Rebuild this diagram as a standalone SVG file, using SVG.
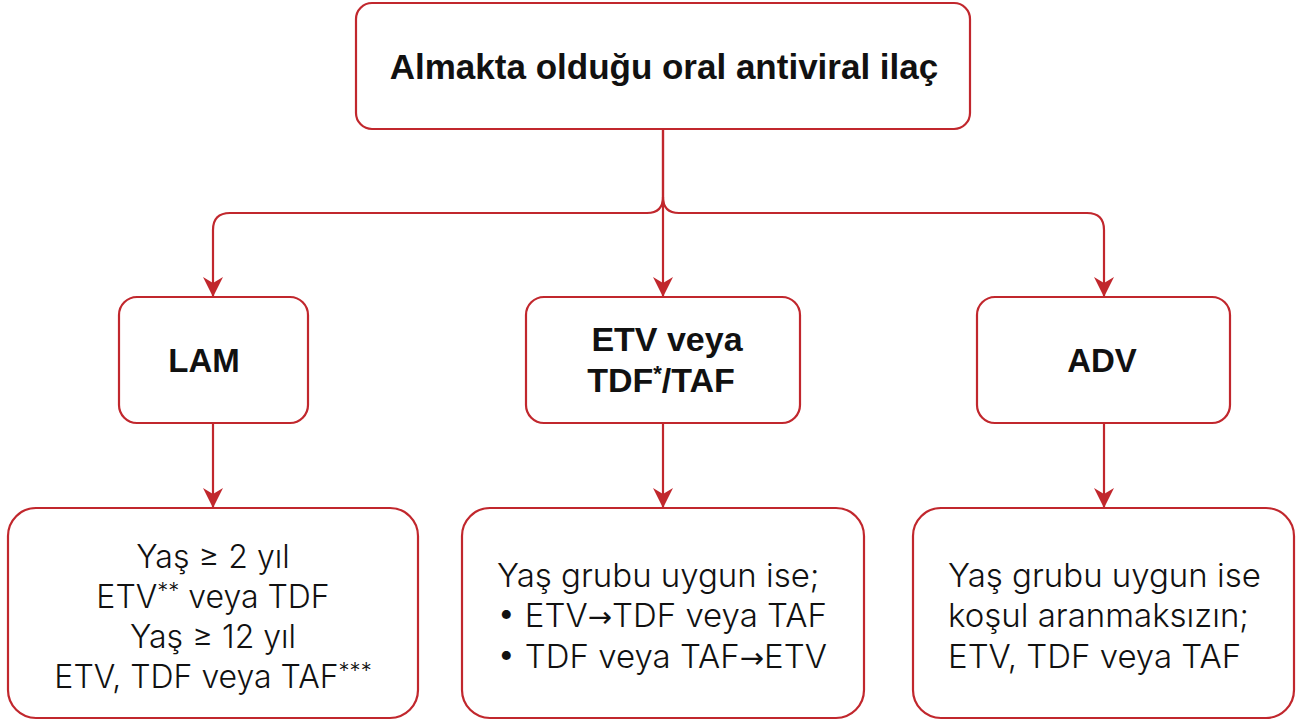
<svg xmlns="http://www.w3.org/2000/svg" width="1301" height="723" viewBox="0 0 1301 723">
<defs>
<style>
.box{fill:#ffffff;stroke:#C1272D;stroke-width:2.2}
.con{fill:none;stroke:#C1272D;stroke-width:2.2}
.hd{font-family:"Liberation Sans",Arial,sans-serif;font-weight:bold;fill:#111111}
.bd{font-family:Inter,"Liberation Sans",Arial,sans-serif;font-weight:300;font-size:32px;fill:#111111}
.bw{font-size:33px}
.ar{font-family:"DejaVu Sans",sans-serif;font-weight:normal;font-size:29px}
.st{font-size:22px}
</style>
<marker id="arr" markerUnits="userSpaceOnUse" markerWidth="20" markerHeight="20" viewBox="0 0 20 20" refX="20" refY="10" orient="auto">
<path d="M0,0 L20,10 L0,20 L6,10 Z" fill="#C1272D"/>
</marker>
</defs>
<rect width="1301" height="723" fill="#ffffff"/>
<g id="connectors">
<path class="con" d="M663,129 V297" marker-end="url(#arr)"/>
<path class="con" d="M663,129 V197 Q663,213 647,213 H230 Q213,213 213,230 V297" marker-end="url(#arr)"/>
<path class="con" d="M663,197 Q663,213 679,213 H1087 Q1104,213 1104,230 V297" marker-end="url(#arr)"/>
<path class="con" d="M213,423 V508" marker-end="url(#arr)"/>
<path class="con" d="M663,423 V508" marker-end="url(#arr)"/>
<path class="con" d="M1104,423 V508" marker-end="url(#arr)"/>
</g>
<g id="top">
<rect class="box" x="356" y="3" width="614" height="126" rx="16"/>
<text class="hd" x="664" y="79" font-size="35" text-anchor="middle">Almakta olduğu oral antiviral ilaç</text>
</g>
<g id="lam">
<rect class="box" x="119" y="297" width="189" height="126" rx="18"/>
<text class="hd" x="204" y="372" font-size="33" text-anchor="middle">LAM</text>
</g>
<g id="etv">
<rect class="box" x="526" y="297" width="274" height="126" rx="18"/>
<text class="hd" x="667" y="351" font-size="34" text-anchor="middle">ETV veya</text>
<text class="hd" x="661" y="392" font-size="34" text-anchor="middle">TDF<tspan font-size="22" dy="-11">*</tspan><tspan dy="11">/TAF</tspan></text>
</g>
<g id="adv">
<rect class="box" x="977" y="297" width="253" height="126" rx="18"/>
<text class="hd" x="1102" y="372" font-size="33" text-anchor="middle">ADV</text>
</g>
<g id="lam-result">
<rect class="box" x="8" y="508" width="410" height="210" rx="28"/>
<text class="bd" x="213" y="568" text-anchor="middle">Yaş ≥ 2 yıl</text>
<text class="bd" x="213" y="608" text-anchor="middle">ETV<tspan class="st" dy="-10">**</tspan><tspan dy="10"> veya TDF</tspan></text>
<text class="bd" x="213" y="648" text-anchor="middle">Yaş ≥ 12 yıl</text>
<text class="bd" x="213" y="688" text-anchor="middle">ETV, TDF veya TAF<tspan class="st" dy="-10">***</tspan></text>
</g>
<g id="etv-result">
<rect class="box" x="462" y="508" width="402" height="210" rx="28"/>
<text class="bd bw" x="497" y="587">Yaş grubu uygun ise;</text>
<text class="bd bw" x="497" y="627">• ETV<tspan class="ar">→</tspan>TDF veya TAF</text>
<text class="bd bw" x="497" y="668">• TDF veya TAF<tspan class="ar">→</tspan>ETV</text>
</g>
<g id="adv-result">
<rect class="box" x="913" y="508" width="381" height="210" rx="28"/>
<text class="bd bw" x="948" y="587">Yaş grubu uygun ise</text>
<text class="bd bw" x="948" y="627">koşul aranmaksızın;</text>
<text class="bd bw" x="948" y="668">ETV, TDF veya TAF</text>
</g>
</svg>
